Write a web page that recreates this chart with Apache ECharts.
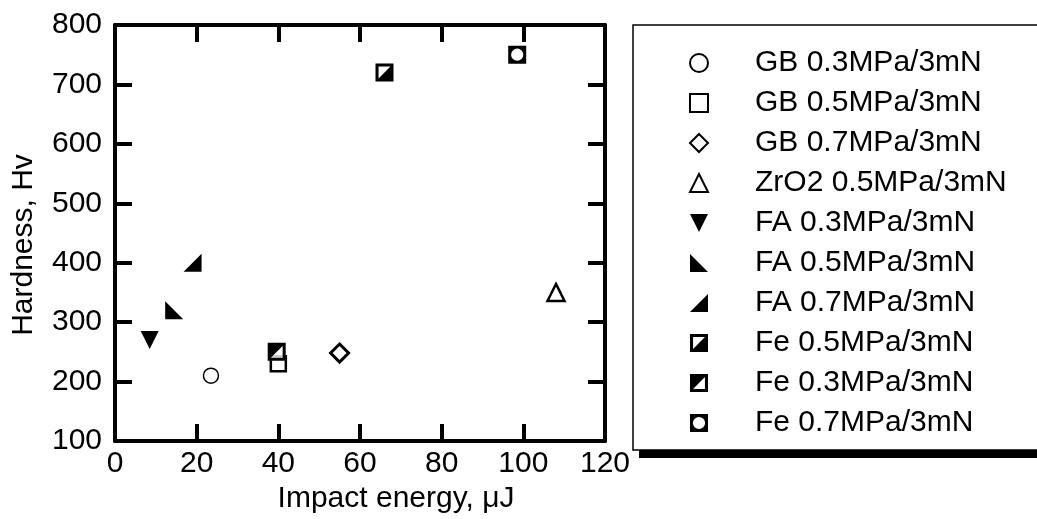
<!DOCTYPE html>
<html>
<head>
<meta charset="utf-8">
<script src="https://cdn.jsdelivr.net/npm/echarts@6/dist/echarts.min.js"></script>
<style>
html,body{margin:0;padding:0;background:#fff;}
#chart{width:1037px;height:519px;}
</style>
</head>
<body>
<div id="chart"></div>
<script>
// ---- data ----
const seriesNames = ['GB 0.3MPa/3mN','GB 0.5MPa/3mN','GB 0.7MPa/3mN','ZrO2 0.5MPa/3mN','FA 0.3MPa/3mN','FA 0.5MPa/3mN','FA 0.7MPa/3mN','Fe 0.5MPa/3mN','Fe 0.3MPa/3mN','Fe 0.7MPa/3mN'];
const gb03 = [[23.5, 210]];
const gb05 = [[40, 230]];
const gb07 = [[55, 248]];
const zro05 = [[108, 350]];
const fa03 = [[8.5, 270]];
const fa05 = [[14.5, 320]];
const fa07 = [[19, 400]];
const fe05 = [[66, 720]];
const fe03 = [[39.6, 250]];
const fe07 = [[98.5, 750]];
const xTicks = {min: 0, max: 120, interval: 20};
const yTicks = {min: 100, max: 800, interval: 100};

// ---- styles ----
const FONT = "'Liberation Sans', Arial, sans-serif";
const SYM = {
  triDown: 'path://M0 0 L10 0 L5 10 Z',
  triLL: 'path://M0 0 L0 10 L10 10 Z',
  triLR: 'path://M0 10 L10 10 L10 0 Z',
  sqUL: 'path://M0 0 L10 0 L10 10 L0 10 Z M1.7 1.7 L1.7 8.3 L8.3 1.7 Z',
  sqLR: 'path://M0 0 L10 0 L10 10 L0 10 Z M8.3 1.7 L1.7 8.3 L8.3 8.3 Z',
  sqCirc: 'path://M0 0 L10 0 L10 10 L0 10 Z M5 1.6 A3.4 3.4 0 0 0 5 8.4 A3.4 3.4 0 0 0 5 1.6 Z'
};
function open(name, data, symbol, size, bw) {
  return {name, type:'scatter', data, symbol, symbolSize:size,
    itemStyle:{color:'#fff', borderColor:'#000', borderWidth:bw, opacity:1}};
}
function solid(name, data, symbol, size) {
  return {name, type:'scatter', data, symbol, symbolSize:size,
    itemStyle:{color:'#000', borderWidth:0, opacity:1}};
}
const axisCommon = {
  axisLine:{show:true, onZero:false, lineStyle:{color:'#000', width:4}},
  axisTick:{show:true, inside:true, length:17, lineStyle:{color:'#000', width:4}},
  splitLine:{show:false}
};

const chart = echarts.init(document.getElementById('chart'), null, {renderer:'canvas'});
chart.setOption({
  animation:false,
  backgroundColor:'#fff',
  textStyle:{fontFamily:FONT},
  grid:{left:115, top:25, right:432, bottom:78, containLabel:false},
  graphic:[
    {type:'rect', z:1, silent:true, shape:{x:639, y:33, width:600, height:425}, style:{fill:'#000'}}
  ],
  xAxis:[
    Object.assign({type:'value', position:'bottom', min:xTicks.min, max:xTicks.max, interval:xTicks.interval,
      name:'Impact energy, \u03bcJ', nameLocation:'middle', nameGap:32,
      nameTextStyle:{fontSize:30, color:'#000', fontFamily:FONT, padding:[0,0,0,72]},
      axisLabel:{fontSize:30, color:'#000', fontFamily:FONT, margin:8}}, axisCommon),
    Object.assign({type:'value', position:'top', min:xTicks.min, max:xTicks.max, interval:xTicks.interval,
      axisLabel:{show:false}}, axisCommon)
  ],
  yAxis:[
    Object.assign({type:'value', position:'left', min:yTicks.min, max:yTicks.max, interval:yTicks.interval,
      name:'Hardness, Hv', nameLocation:'middle', nameGap:76,
      nameTextStyle:{fontSize:30, color:'#000', fontFamily:FONT, padding:[0,24,0,0]},
      axisLabel:{fontSize:30, color:'#000', fontFamily:FONT, margin:13, padding:[0,0,12,0]}}, axisCommon),
    Object.assign({type:'value', position:'right', min:yTicks.min, max:yTicks.max, interval:yTicks.interval,
      axisLabel:{show:false}}, axisCommon)
  ],
  legend:{
    data:seriesNames,
    z:5,
    orient:'vertical', left:633, top:25,
    padding:[23, 420, 12, 56],
    itemWidth:18, itemHeight:18, itemGap:10,
    backgroundColor:'#fff', borderColor:'#000', borderWidth:1.5,
    textStyle:{fontSize:30, color:'#000', fontFamily:FONT, lineHeight:30, padding:[0,0,0,42]},
    selectedMode:false
  },
  series:[
    open(seriesNames[0], gb03, 'circle', 15, 1.5),
    open(seriesNames[1], gb05, 'rect', 15, 2.5),
    open(seriesNames[2], gb07, 'diamond', 18, 3),
    open(seriesNames[3], zro05, 'triangle', 17, 2.5),
    solid(seriesNames[4], fa03, SYM.triDown, 18),
    solid(seriesNames[5], fa05, SYM.triLL, 18),
    solid(seriesNames[6], fa07, SYM.triLR, 18),
    solid(seriesNames[7], fe05, SYM.sqUL, 18),
    {name:'', type:'scatter', data:fe03, symbol:'rect', symbolSize:17, silent:true,
      itemStyle:{color:'#fff', borderWidth:0}},
    solid(seriesNames[8], fe03, SYM.sqLR, 18),
    solid(seriesNames[9], fe07, SYM.sqCirc, 18)
  ]
});
</script>
</body>
</html>
